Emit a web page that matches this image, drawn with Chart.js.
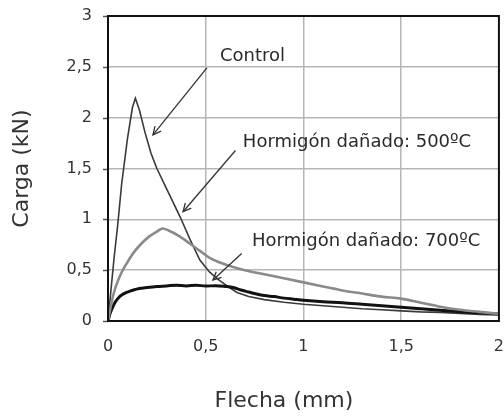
<!DOCTYPE html>
<html>
<head>
<meta charset="utf-8">
<script src="https://cdn.jsdelivr.net/npm/chart.js@4/dist/chart.umd.min.js"></script>
<style>
  html, body { margin: 0; padding: 0; background: #fff; }
  #wrap { width: 504px; height: 417px; }
</style>
</head>
<body>
<div id="wrap"><canvas id="c" width="504" height="417"></canvas></div>
<script>
// ---- data ----
const controlX = [0, 0.01, 0.03, 0.05, 0.07, 0.1, 0.125, 0.14, 0.16, 0.19, 0.22, 0.25, 0.3, 0.37, 0.42, 0.47, 0.52, 0.57, 0.62, 0.66, 0.72, 0.8, 0.9, 1.0, 1.1, 1.2, 1.3, 1.4, 1.5, 1.6, 1.7, 1.8, 1.9, 2.0];
const controlY = [0, 0.2, 0.6, 0.95, 1.35, 1.8, 2.1, 2.19, 2.08, 1.85, 1.65, 1.5, 1.3, 1.02, 0.8, 0.6, 0.48, 0.4, 0.33, 0.28, 0.24, 0.21, 0.185, 0.165, 0.15, 0.135, 0.12, 0.11, 0.1, 0.09, 0.085, 0.075, 0.065, 0.06];

const d500X = [0, 0.02, 0.04, 0.07, 0.1, 0.13, 0.17, 0.21, 0.25, 0.28, 0.31, 0.36, 0.42, 0.47, 0.52, 0.58, 0.64, 0.7, 0.8, 0.9, 1.0, 1.1, 1.2, 1.3, 1.4, 1.5, 1.6, 1.7, 1.8, 1.9, 2.0];
const d500Y = [0, 0.2, 0.34, 0.48, 0.58, 0.67, 0.76, 0.83, 0.88, 0.91, 0.89, 0.84, 0.76, 0.69, 0.62, 0.57, 0.53, 0.5, 0.46, 0.42, 0.38, 0.34, 0.3, 0.27, 0.24, 0.22, 0.18, 0.14, 0.11, 0.09, 0.07];

const d700X = [0, 0.01, 0.02, 0.035, 0.05, 0.07, 0.1, 0.13, 0.16, 0.2, 0.25, 0.3, 0.35, 0.4, 0.45, 0.5, 0.55, 0.6, 0.64, 0.68, 0.72, 0.76, 0.8, 0.85, 0.9, 0.95, 1.0, 1.1, 1.2, 1.3, 1.4, 1.5, 1.6, 1.7, 1.8, 1.9, 2.0];
const d700Y = [0, 0.07, 0.12, 0.18, 0.22, 0.255, 0.285, 0.305, 0.32, 0.33, 0.34, 0.345, 0.352, 0.345, 0.352, 0.344, 0.347, 0.34, 0.33, 0.305, 0.285, 0.265, 0.25, 0.24, 0.225, 0.215, 0.205, 0.19, 0.18, 0.165, 0.15, 0.135, 0.12, 0.105, 0.09, 0.08, 0.07];

const xTicks = [0, 0.5, 1, 1.5, 2];
const yTicks = [0, 0.5, 1, 1.5, 2, 2.5, 3];

// annotation labels: text, anchor (data units), arrow start and tip (data units)
const noteTexts = ['Control', 'Hormigón dañado: 500ºC', 'Hormigón dañado: 700ºC'];
const noteTextX = [0.573, 0.69, 0.737];
const noteTextY = [2.6, 1.76, 0.787];
const arrowFromX = [0.506, 0.652, 0.684];
const arrowFromY = [2.49, 1.677, 0.664];
const arrowToX = [0.23, 0.384, 0.537];
const arrowToY = [1.83, 1.075, 0.403];

const xTitle = 'Flecha (mm)';
const yTitle = 'Carga (kN)';

function pts(xs, ys) { return xs.map((x, i) => ({x: x, y: ys[i]})); }
const fmt = v => String(v).replace('.', ',');

const FONT = "'DejaVu Sans', sans-serif";

const decor = {
  id: 'decor',
  afterDatasetsDraw(chart) {
    const {ctx, chartArea: a, scales: {x, y}} = chart;
    ctx.save();
    // small outward tick marks on the value axis
    ctx.strokeStyle = '#555';
    ctx.lineWidth = 1.5;
    yTicks.forEach(v => {
      const py = Math.round(y.getPixelForValue(v)) + 0.5;
      ctx.beginPath(); ctx.moveTo(a.left - 5, py); ctx.lineTo(a.left, py); ctx.stroke();
    });
    // frame
    ctx.strokeStyle = '#111';
    ctx.lineWidth = 2;
    ctx.strokeRect(a.left, a.top, a.right - a.left, a.bottom - a.top);
    // arrows
    ctx.strokeStyle = '#333';
    ctx.lineWidth = 1.3;
    for (let i = 0; i < noteTexts.length; i++) {
      const x0 = x.getPixelForValue(arrowFromX[i]), y0 = y.getPixelForValue(arrowFromY[i]);
      const x1 = x.getPixelForValue(arrowToX[i]), y1 = y.getPixelForValue(arrowToY[i]);
      ctx.beginPath(); ctx.moveTo(x0, y0); ctx.lineTo(x1, y1); ctx.stroke();
      const ang = Math.atan2(y1 - y0, x1 - x0), L = 9, w = 0.45;
      ctx.beginPath();
      ctx.moveTo(x1 - L * Math.cos(ang - w), y1 - L * Math.sin(ang - w));
      ctx.lineTo(x1, y1);
      ctx.lineTo(x1 - L * Math.cos(ang + w), y1 - L * Math.sin(ang + w));
      ctx.stroke();
    }
    // labels
    ctx.fillStyle = '#2a2a2a';
    ctx.font = '18px ' + FONT;
    ctx.textAlign = 'left';
    ctx.textBaseline = 'middle';
    for (let i = 0; i < noteTexts.length; i++) {
      ctx.fillText(noteTexts[i], x.getPixelForValue(noteTextX[i]), y.getPixelForValue(noteTextY[i]));
    }
    // x axis title
    ctx.font = '22px ' + FONT;
    ctx.textAlign = 'center';
    ctx.fillStyle = '#333';
    ctx.fillText(xTitle, a.left + (a.right - a.left) * 0.45, 401);
    ctx.restore();
  }
};

new Chart(document.getElementById('c'), {
  type: 'line',
  data: {
    datasets: [
      { label: 'Hormigón dañado: 500ºC', data: pts(d500X, d500Y), borderColor: '#8a8a8a', borderWidth: 2.6, pointRadius: 0, cubicInterpolationMode: 'monotone', fill: false },
      { label: 'Hormigón dañado: 700ºC', data: pts(d700X, d700Y), borderColor: '#111', borderWidth: 3, pointRadius: 0, cubicInterpolationMode: 'monotone', fill: false },
      { label: 'Control', data: pts(controlX, controlY), borderColor: '#3a3a3a', borderWidth: 1.6, pointRadius: 0, tension: 0, fill: false }
    ]
  },
  options: {
    responsive: false,
    animation: false,
    devicePixelRatio: 1,
    layout: { padding: { left: 0, right: 5, top: 16, bottom: 0 } },
    plugins: { legend: { display: false }, tooltip: { enabled: false } },
    scales: {
      x: {
        type: 'linear', min: 0, max: 2,
        afterBuildTicks: s => { s.ticks = xTicks.map(v => ({value: v})); },
        afterFit: s => { s.height = 96; },
        ticks: { callback: fmt, color: '#333', font: { family: FONT, size: 16 }, padding: 0, maxRotation: 0 },
        grid: { color: '#b5b5b5', lineWidth: 1.5, drawTicks: true, tickLength: 16, tickColor: 'rgba(0,0,0,0)' },
        border: { display: true, color: '#111', width: 2 },
        title: { display: false, text: xTitle }
      },
      y: {
        type: 'linear', min: 0, max: 3,
        afterBuildTicks: s => { s.ticks = yTicks.map(v => ({value: v})); },
        afterFit: s => { s.width = 108; },
        ticks: { callback: fmt, color: '#333', font: { family: FONT, size: 16 }, padding: 0 },
        grid: { color: '#b5b5b5', lineWidth: 1.5, drawTicks: true, tickLength: 16, tickColor: 'rgba(0,0,0,0)' },
        border: { display: true, color: '#111', width: 2 },
        title: { display: true, text: yTitle, color: '#333', font: { family: FONT, size: 22 }, padding: { top: 9, bottom: 0 } }
      }
    }
  },
  plugins: [decor]
});
</script>
</body>
</html>
